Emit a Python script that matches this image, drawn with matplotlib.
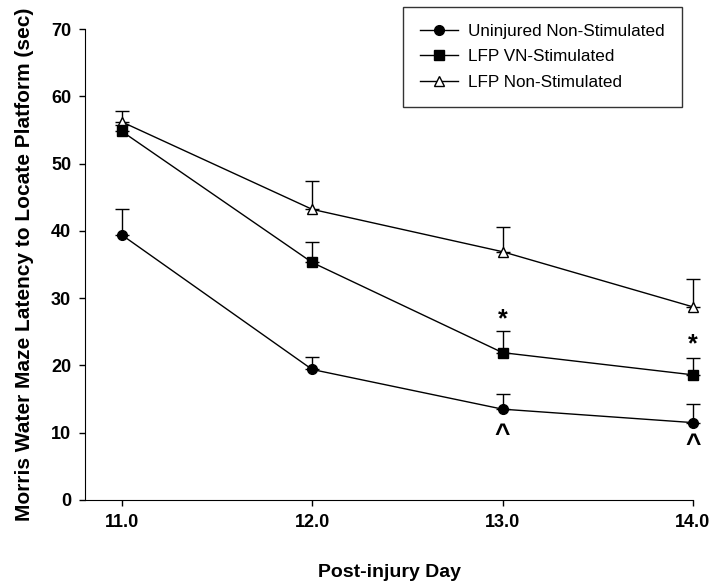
import matplotlib
matplotlib.use("Agg")
import matplotlib.pyplot as plt

plt.rcParams['font.family'] = ['Liberation Sans', 'DejaVu Sans']

days = [11.0, 12.0, 13.0, 14.0]
uninjured = [39.4, 19.4, 13.5, 11.5]
uninjured_err = [3.8, 1.9, 2.2, 2.7]
vn_stim = [54.8, 35.3, 21.9, 18.6]
vn_stim_err = [1.0, 3.0, 3.2, 2.5]
lfp_non = [56.2, 43.2, 36.9, 28.7]
lfp_non_err = [1.6, 4.2, 3.6, 4.1]
star_days = [13.0, 14.0]
star_vals = [26.8, 23.1]
caret_days = [13.0, 14.0]
caret_vals = [9.6, 8.2]
xticks = [11.0, 12.0, 13.0, 14.0]
xticklabels = ['11.0', '12.0', '13.0', '14.0']
yticks = [0, 10, 20, 30, 40, 50, 60, 70]

fig = plt.figure(figsize=(7.10, 5.88), dpi=100)
ax = fig.add_axes([85/710, 88/588, (693-85)/710, (500-29)/588])

def series(y, err, marker, mfc, label, z):
    _, caps, bars = ax.errorbar(days, y, yerr=[[0]*len(err), err], fmt='none', ecolor='black',
                                elinewidth=1.0, capsize=5, capthick=1.0, zorder=z)
    for c in caps:
        c.set_clip_on(False)
    for b in bars:
        b.set_clip_on(False)
    ax.plot(days, y, color='black', lw=1.0, marker=marker, markersize=7,
            markerfacecolor=mfc, markeredgecolor='black', markeredgewidth=1.0,
            label=label, zorder=z + 1, clip_on=False)

series(lfp_non, lfp_non_err, '^', 'white', 'LFP Non-Stimulated', 3)
series(vn_stim, vn_stim_err, 's', 'black', 'LFP VN-Stimulated', 5)
series(uninjured, uninjured_err, 'o', 'black', 'Uninjured Non-Stimulated', 7)

for x, y in zip(star_days, star_vals):
    ax.text(x, y, '*', ha='center', va='center', fontsize=18, fontweight='bold')
for x, y in zip(caret_days, caret_vals):
    ax.text(x, y, '^', ha='center', va='center', fontsize=19, fontweight='bold')

ax.set_xlim(10.807, 14.0)
ax.set_ylim(0, 70)
ax.set_xticks(xticks)
ax.set_xticklabels(xticklabels)
ax.set_yticks(yticks)
ax.spines['top'].set_visible(False)
ax.spines['right'].set_visible(False)
ax.tick_params(direction='out', length=4, width=1, labelsize=13, pad=6)
for lab in ax.get_xticklabels() + ax.get_yticklabels():
    lab.set_fontweight('bold')

ax.set_xlabel('Post-injury Day', fontsize=14, fontweight='bold', labelpad=24)
ax.set_ylabel('Morris Water Maze Latency to Locate Platform (sec)', fontsize=15,
              fontweight='bold', labelpad=12)

handles, labels = ax.get_legend_handles_labels()
order = [2, 1, 0]
leg = ax.legend([handles[i] for i in order], [labels[i] for i in order],
                loc='upper right', bbox_to_anchor=(0.9815, 1.0467), fontsize=12.3,
                frameon=True, fancybox=False, edgecolor='black', borderpad=1.0,
                handlelength=2.2, handletextpad=0.6, labelspacing=0.6,
                borderaxespad=0.0)
leg.get_frame().set_linewidth(1.0)

fig.savefig('out.png', dpi=100)
